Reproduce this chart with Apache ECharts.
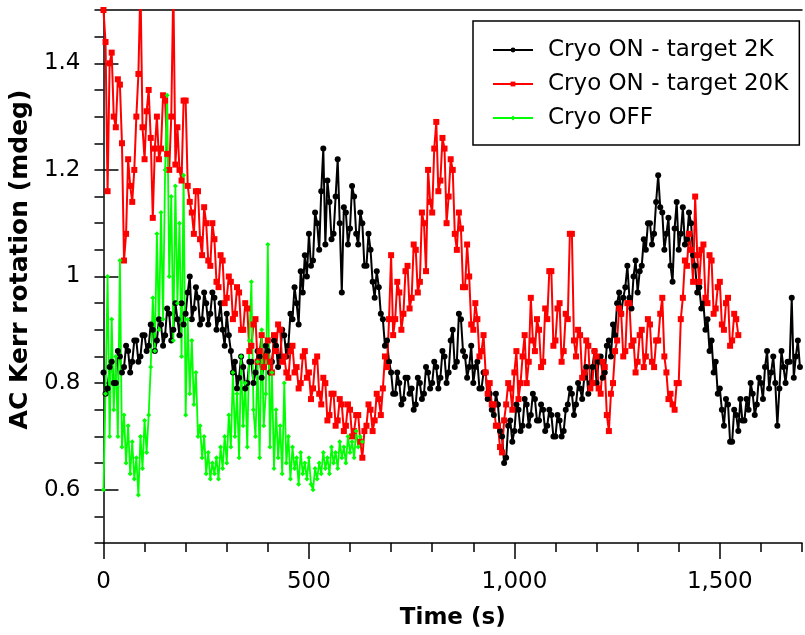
<!DOCTYPE html>
<html>
<head>
<meta charset="utf-8">
<script src="https://cdn.jsdelivr.net/npm/echarts@6/dist/echarts.min.js"></script>
<style>html,body{margin:0;padding:0;background:#fff}#c{width:805px;height:635px}</style>
</head>
<body>
<div id="c"></div>
<script>
// ---- data ----
const seriesNames = ['Cryo ON - target 2K', 'Cryo ON - target 20K', 'Cryo OFF'];
const xTickLabels = [0, 500, 1000, 1500];
const yTickLabels = [0.6, 0.8, 1.0, 1.2, 1.4];

const blackStart = 0, blackStep = 5;   // seconds
const blackValues = [
0.82,0.78,0.79,0.83,0.84,0.80,0.80,0.86,0.85,0.82,
0.83,0.87,0.86,0.82,0.84,0.88,0.88,0.84,0.85,0.89,
0.89,0.86,0.87,0.91,0.90,0.86,0.88,0.92,0.91,0.87,
0.89,0.94,0.93,0.88,0.90,0.95,0.92,0.89,0.95,0.91,
0.93,0.97,1.00,0.92,0.94,0.98,0.96,0.91,0.92,0.97,
0.95,0.91,0.93,0.97,0.96,0.90,0.92,0.95,0.90,0.87,
0.93,0.89,0.86,0.82,0.84,0.79,0.81,0.85,0.83,0.79,
0.80,0.84,0.84,0.80,0.82,0.86,0.85,0.81,0.83,0.87,
0.86,0.82,0.84,0.88,0.87,0.83,0.85,0.90,0.89,0.85,
0.87,0.93,0.92,0.98,0.95,0.91,1.01,0.97,1.04,1.00,
1.08,1.02,1.03,1.12,1.10,1.05,1.16,1.24,1.06,1.18,
1.14,1.07,1.08,1.15,1.22,1.10,0.97,1.13,1.12,1.06,
1.09,1.17,1.15,1.08,1.06,1.12,1.10,1.02,1.02,1.08,
1.05,0.99,0.96,1.01,0.98,0.93,0.92,0.87,0.88,0.84,
0.82,0.78,0.78,0.82,0.80,0.76,0.77,0.81,0.81,0.78,
0.79,0.75,0.76,0.81,0.80,0.77,0.78,0.83,0.82,0.79,
0.80,0.84,0.83,0.79,0.81,0.86,0.85,0.80,0.82,0.88,
0.90,0.83,0.84,0.93,0.92,0.86,0.85,0.81,0.83,0.87,
0.80,0.83,0.84,0.79,0.79,0.82,0.82,0.77,0.78,0.75,
0.74,0.78,0.76,0.71,0.70,0.65,0.66,0.72,0.73,0.69,
0.71,0.76,0.75,0.71,0.72,0.77,0.76,0.72,0.74,0.78,
0.77,0.73,0.73,0.76,0.75,0.71,0.72,0.75,0.74,0.70,
0.70,0.74,0.73,0.70,0.71,0.75,0.76,0.79,0.78,0.74,
0.76,0.80,0.79,0.77,0.81,0.83,0.78,0.80,0.83,0.86,
0.80,0.84,0.85,0.81,0.82,0.87,0.88,0.85,0.91,0.89,
0.95,0.97,0.93,0.96,0.98,1.02,0.96,0.94,1.00,1.03,
0.97,1.01,1.02,1.07,1.05,1.10,1.10,1.06,1.08,1.14,
1.19,1.13,1.12,1.05,1.08,1.11,1.02,0.99,1.09,1.14,
1.05,1.08,1.13,1.06,1.07,1.12,1.10,1.04,1.02,0.97,
0.98,0.94,0.95,0.90,0.92,0.86,0.88,0.82,0.84,0.78,
0.79,0.75,0.72,0.77,0.76,0.69,0.69,0.75,0.74,0.71,
0.77,0.73,0.73,0.77,0.75,0.80,0.78,0.74,0.76,0.81,
0.80,0.77,0.83,0.86,0.79,0.82,0.85,0.80,0.72,0.79,
0.86,0.83,0.80,0.84,0.84,0.96,0.81,0.85,0.88,0.83
];

const redStart = 0, redStep = 5;
const redValues = [
1.50,1.44,1.16,1.40,1.42,1.30,1.28,1.37,1.36,1.25,
1.03,1.08,1.22,1.17,1.14,1.20,1.30,1.38,1.55,1.28,
1.22,1.31,1.35,1.26,1.11,1.24,1.30,1.22,1.24,1.34,
1.33,1.23,1.20,1.30,1.55,1.21,1.28,1.20,1.18,1.33,
1.33,1.17,1.14,1.12,1.08,1.16,1.16,1.07,1.04,1.13,
1.10,1.03,1.02,1.10,1.07,0.99,0.98,1.04,1.03,0.95,
0.96,1.00,0.99,0.92,0.93,0.98,0.97,0.90,0.90,0.95,
0.94,0.86,0.87,0.91,0.92,0.84,0.86,0.89,0.83,0.85,
0.88,0.84,0.82,0.89,0.86,0.91,0.90,0.84,0.85,0.82,
0.81,0.86,0.87,0.82,0.83,0.79,0.80,0.85,0.86,0.81,
0.82,0.77,0.79,0.84,0.85,0.78,0.76,0.81,0.80,0.73,
0.74,0.78,0.78,0.72,0.73,0.77,0.76,0.71,0.72,0.76,
0.75,0.70,0.71,0.74,0.74,0.69,0.66,0.71,0.72,0.76,
0.75,0.71,0.73,0.78,0.77,0.74,0.79,0.85,0.83,0.92,
1.04,0.89,0.92,0.99,0.97,0.90,0.93,1.01,1.02,0.94,
0.96,1.06,1.05,0.97,0.99,1.12,1.10,1.01,1.20,1.14,
1.12,1.24,1.29,1.16,1.18,1.26,1.24,1.10,1.15,1.22,
1.20,1.08,1.05,1.12,1.09,0.98,0.98,1.06,1.00,0.91,
0.90,0.95,0.92,0.85,0.86,0.89,0.82,0.78,0.80,0.76,
0.76,0.72,0.72,0.68,0.67,0.73,0.76,0.80,0.79,0.75,
0.82,0.86,0.77,0.80,0.85,0.89,0.80,0.84,0.96,0.88,
0.86,0.92,0.90,0.83,0.84,0.94,0.92,1.01,1.01,0.87,
0.88,0.94,0.95,0.84,0.86,0.93,0.92,1.08,1.08,0.88,
0.85,0.90,0.89,0.81,0.82,0.88,0.87,0.79,0.80,0.86,
0.85,0.79,0.78,0.84,0.83,0.74,0.71,0.78,0.80,0.86,
0.88,0.94,0.93,0.85,0.86,0.95,0.95,0.87,0.88,0.82,
0.84,0.89,0.90,0.83,0.85,0.92,0.91,0.84,0.83,0.88,
0.88,0.93,0.96,0.85,0.82,0.77,0.78,0.76,0.75,0.80,
0.80,0.92,0.96,1.03,1.02,1.08,1.05,0.99,1.15,1.04,
0.99,1.05,1.06,0.96,0.95,1.04,1.03,0.93,0.94,0.98,
0.99,0.91,0.90,0.95,0.96,0.87,0.88,0.93,0.92,0.89
];

const greenStart = 0, greenStep = 5;
const greenValues = [
0.60,0.78,1.00,0.70,0.92,0.75,0.85,0.70,1.03,0.68,
0.74,0.65,0.72,0.63,0.69,0.62,0.66,0.59,0.70,0.64,
0.73,0.67,0.74,0.83,0.96,0.86,1.08,0.90,1.12,0.92,
1.20,1.34,1.00,1.15,0.88,1.17,0.95,1.10,0.85,1.19,
0.74,0.92,0.78,0.88,0.76,0.82,0.70,0.72,0.66,0.70,
0.63,0.67,0.62,0.65,0.63,0.66,0.62,0.68,0.64,0.70,
0.65,0.74,0.68,0.82,0.70,0.78,0.66,0.85,0.72,0.80,
0.68,0.88,0.99,0.75,0.70,0.84,0.66,0.90,0.72,0.78,
1.06,0.68,0.82,0.64,0.75,0.66,0.72,0.63,0.80,0.65,
0.70,0.62,0.68,0.64,0.66,0.61,0.67,0.63,0.65,0.62,
0.66,0.61,0.60,0.64,0.62,0.65,0.63,0.67,0.64,0.66,
0.63,0.68,0.65,0.67,0.64,0.69,0.66,0.68,0.65,0.70,
0.67,0.69,0.66,0.71,0.68,0.70,0.69
];

// ---- build ----
function pairs(start, step, vals){ return vals.map((v,i)=>[start + i*step, v]); }
const FONT = 'DejaVu Sans';
const axisLine = {show:true, lineStyle:{color:'#000', width:1.5}};

const chart = echarts.init(document.getElementById('c'), null, {renderer:'canvas'});
chart.setOption({
  animation:false,
  backgroundColor:'#fff',
  grid:{left:102, top:10, width:710, height:533},
  legend:{
    orient:'vertical', left:473, top:21,
    data:seriesNames,
    itemWidth:40, itemHeight:6, itemGap:10,
    padding:[17,11,15,19],
    borderColor:'#000', borderWidth:1.5,
    textStyle:{fontFamily:FONT, fontSize:23, color:'#000', lineHeight:24, padding:[0,0,0,10]}
  },
  xAxis:[
    {type:'value', min:0, max:1700, interval:100, position:'bottom',
     axisLine:axisLine,
     axisTick:{show:true, length:9, lineStyle:{color:'#000', width:1.5}},
     axisLabel:{margin:28, fontFamily:FONT, fontSize:23, color:'#000',
       formatter:v => xTickLabels.indexOf(v) >= 0 ? v.toLocaleString('en-US') : ''},
     splitLine:{show:false},
     name:'Time (s)', nameLocation:'middle', nameGap:64,
     nameTextStyle:{fontFamily:FONT, fontWeight:'bold', fontSize:23, color:'#000'}},
    {type:'value', min:0, max:1700, position:'bottom',
     axisLine:{show:false},
     axisTick:{show:true, length:16, customValues:xTickLabels, lineStyle:{color:'#000', width:1.5}},
     axisLabel:{show:false}, splitLine:{show:false}},
    {type:'value', min:0, max:1700, position:'top',
     axisLine:axisLine, axisTick:{show:false}, axisLabel:{show:false}, splitLine:{show:false}}
  ],
  yAxis:[
    {type:'value', min:0.5, max:1.5, interval:0.05, offset:4,
     axisLine:axisLine,
     axisTick:{show:true, length:9, lineStyle:{color:'#000', width:1.5}},
     axisLabel:{margin:19, fontFamily:FONT, fontSize:23, color:'#000',
       formatter:v => yTickLabels.some(t => Math.abs(t - v) < 1e-6) ? String(+v.toFixed(1)) : ''},
     splitLine:{show:false},
     name:'AC Kerr rotation (mdeg)', nameLocation:'middle', nameGap:50,
     nameTextStyle:{fontFamily:FONT, fontWeight:'bold', fontSize:25, color:'#000', padding:[0,0,0,34]}},
    {type:'value', min:0.5, max:1.5, offset:4,
     axisLine:{show:false},
     axisTick:{show:true, length:15, customValues:yTickLabels, lineStyle:{color:'#000', width:1.5}},
     axisLabel:{show:false}, splitLine:{show:false}}
  ],
  series:[
    {name:seriesNames[0], type:'line', xAxisIndex:0, yAxisIndex:0,
     data:pairs(blackStart, blackStep, blackValues),
     symbol:'circle', symbolSize:6, color:'#000',
     lineStyle:{width:2, color:'#000'}, itemStyle:{color:'#000'}},
    {name:seriesNames[1], type:'line', xAxisIndex:0, yAxisIndex:0,
     data:pairs(redStart, redStep, redValues),
     symbol:'rect', symbolSize:6, color:'#ff0000',
     lineStyle:{width:2, color:'#ff0000'}, itemStyle:{color:'#ff0000'}},
    {name:seriesNames[2], type:'line', xAxisIndex:0, yAxisIndex:0,
     data:pairs(greenStart, greenStep, greenValues),
     symbol:'diamond', symbolSize:5, color:'#00ff00',
     lineStyle:{width:1.8, color:'#00ff00'}, itemStyle:{color:'#00ff00'}}
  ]
});
</script>
</body>
</html>
